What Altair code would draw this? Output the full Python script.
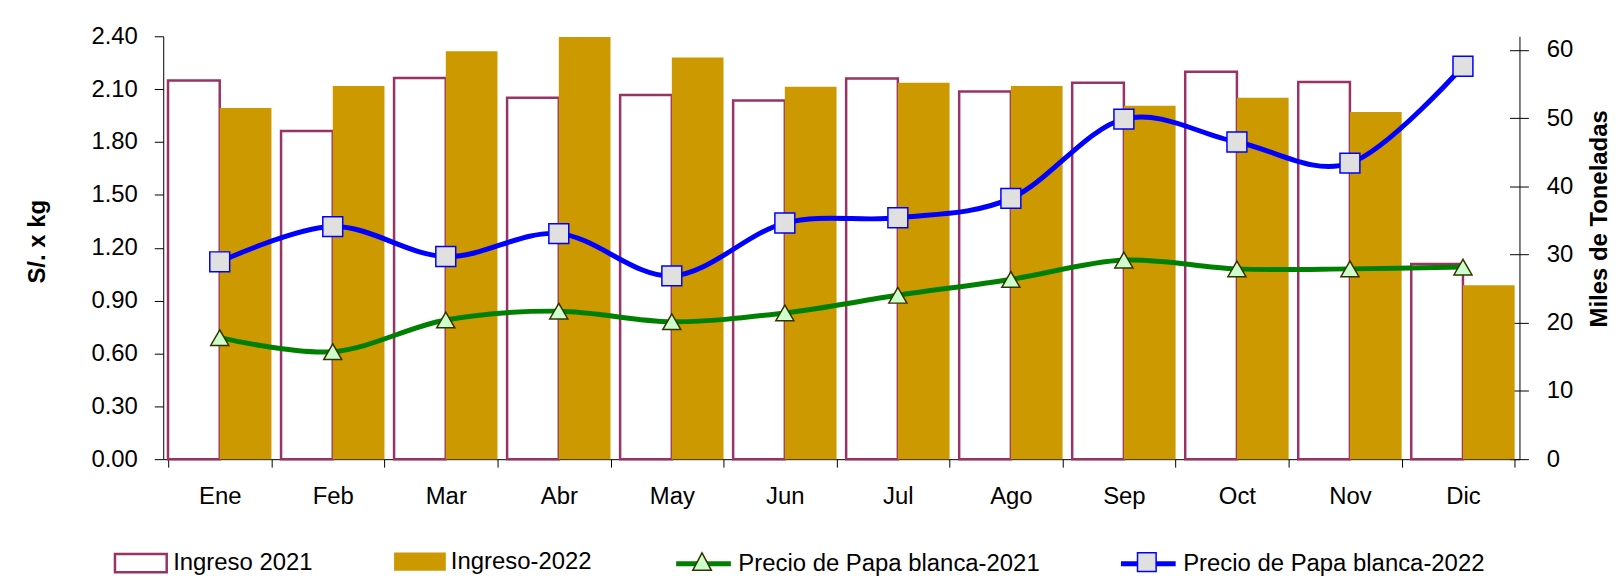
import altair as alt
import pandas as pd

meses = ["Ene", "Feb", "Mar", "Abr", "May", "Jun", "Jul", "Ago", "Sep", "Oct", "Nov", "Dic"]
ingreso_2021 = [55.5, 48.1, 55.9, 53.0, 53.4, 52.6, 55.8, 53.9, 55.2, 56.8, 55.3, 28.6]
ingreso_2022 = [51.5, 54.7, 59.8, 61.9, 58.9, 54.6, 55.2, 54.7, 51.8, 53.0, 50.9, 25.5]
precio_2021 = [0.69, 0.61, 0.79, 0.84, 0.78, 0.83, 0.93, 1.02, 1.13, 1.08, 1.08, 1.09]
precio_2022 = [1.12, 1.32, 1.15, 1.28, 1.04, 1.34, 1.37, 1.48, 1.93, 1.80, 1.68, 2.23]
series = ["Ingreso 2021", "Ingreso-2022", "Precio de Papa blanca-2021", "Precio de Papa blanca-2022"]
left_ticks = [0.0, 0.3, 0.6, 0.9, 1.2, 1.5, 1.8, 2.1, 2.4]
right_ticks = [0, 10, 20, 30, 40, 50, 60]

FONT = "Liberation Sans"


def frame(vals, serie):
    return pd.DataFrame({"mes": meses, "valor": vals, "serie": serie})


def leg(x, y, **kw):
    return alt.Legend(orient="none", legendX=x, legendY=y, direction="horizontal",
                      labelFontSize=24, labelFont=FONT, labelColor="black",
                      labelOffset=5, labelLimit=0, **kw)


x_scale = alt.Scale(domain=meses, paddingInner=0.085, paddingOuter=0.0425)
x_main = alt.X("mes:N", scale=x_scale, axis=alt.Axis(
    title=None, tickBand="extent", tickSize=8, labelPadding=18, labelAngle=0,
    labelFontSize=24, labelFont=FONT, labelColor="black", tickColor="black",
    domainColor="black"))
x_plain = alt.X("mes:N", scale=x_scale, axis=None)
x_off = alt.XOffset("serie:N", scale=alt.Scale(domain=series[:2], paddingInner=0, paddingOuter=0))

y_right = alt.Y("valor:Q", scale=alt.Scale(domain=[0, 62], nice=False), axis=alt.Axis(
    orient="right", values=right_ticks, format="d", tickSize=9, labelPadding=18,
    labelFontSize=24, labelFont=FONT, labelColor="black", tickColor="black",
    domainColor="black", grid=False, title="Miles de Toneladas", titleFont=FONT,
    titleFontSize=24, titleFontWeight="bold", titleColor="black", titleAngle=270,
    titleX=80, titleY=183, titleBaseline="middle", titleAlign="center"))
# inner half of the crossing ticks on the right axis
y_right_inner = alt.Y("valor:Q", scale=alt.Scale(domain=[0, 62], nice=False), axis=alt.Axis(
    orient="right", values=right_ticks, tickSize=10, offset=-10, labels=False, domain=False,
    grid=False, title=None, tickColor="black"))

y_left = alt.Y("valor:Q", scale=alt.Scale(domain=[0, 2.4], nice=False), axis=alt.Axis(
    orient="left", values=left_ticks, format=".2f", tickSize=9, labelPadding=17,
    labelFontSize=24, labelFont=FONT, labelColor="black", tickColor="black",
    domainColor="black", grid=False, title="S/. x kg", titleFont=FONT,
    titleFontSize=24, titleFontWeight="bold", titleColor="black", titleAngle=270,
    titleX=-126, titleY=206, titleBaseline="middle", titleAlign="center"))
y_left_plain = alt.Y("valor:Q", scale=alt.Scale(domain=[0, 2.4], nice=False), axis=None)

RECT = "M-1,-0.35 L1,-0.35 L1,0.35 L-1,0.35 Z"
LINE = "M-1,0 L1,0"
TRI = "M-0.34,0.3 L0,-0.34 L0.34,0.3 Z"
SQR = "M-0.34,-0.34 L0.34,-0.34 L0.34,0.34 L-0.34,0.34 Z"

b21 = alt.Chart(frame(ingreso_2021, series[0])).mark_bar(fill="white", strokeWidth=2.5).encode(
    x=x_main, xOffset=x_off, y=y_right,
    stroke=alt.Stroke("serie:N", title=None, scale=alt.Scale(domain=[series[0]], range=["#993366"]),
                      legend=leg(-50, 502, symbolType=RECT, symbolSize=2704, symbolFillColor="white",
                                 symbolStrokeColor="#993366", symbolStrokeWidth=2.5)))
b22 = alt.Chart(frame(ingreso_2022, series[1])).mark_bar().encode(
    x=x_plain, xOffset=x_off, y=y_right_inner,
    fill=alt.Fill("serie:N", title=None, scale=alt.Scale(domain=[series[1]], range=["#CC9900"]),
                  legend=leg(232, 502, symbolType=RECT, symbolSize=2704, symbolFillColor="#CC9900",
                             symbolStrokeWidth=0)))
l21 = alt.Chart(frame(precio_2021, series[2])).mark_line(strokeWidth=5, interpolate="cardinal", tension=0).encode(
    x=x_plain, y=y_left,
    color=alt.Color("serie:N", title=None, scale=alt.Scale(domain=[series[2]], range=["#008000"]),
                    legend=leg(513, 500, symbolType=LINE, symbolSize=3025, symbolStrokeColor="#008000",
                               symbolStrokeWidth=5)))
p21 = alt.Chart(frame(precio_2021, series[2])).mark_point(
    filled=True, shape="triangle-up", size=330, stroke="#333300", strokeWidth=1.5, opacity=1).encode(
    x=x_plain, y=y_left_plain,
    color=alt.Color("serie:N", title=None, scale=alt.Scale(domain=[series[2]], range=["#CCFFCC"]),
                    legend=leg(513, 500, symbolType=TRI, symbolSize=3025, symbolFillColor="#CCFFCC",
                               symbolStrokeColor="#333300", symbolStrokeWidth=1.5, labelExpr="''")))
l22 = alt.Chart(frame(precio_2022, series[3])).mark_line(strokeWidth=5, interpolate="cardinal", tension=0).encode(
    x=x_plain, y=y_left_plain,
    color=alt.Color("serie:N", title=None, scale=alt.Scale(domain=[series[3]], range=["#0000FF"]),
                    legend=leg(960, 500, symbolType=LINE, symbolSize=3025, symbolStrokeColor="#0000FF",
                               symbolStrokeWidth=5)))
p22 = alt.Chart(frame(precio_2022, series[3])).mark_point(
    filled=True, shape="square", size=400, stroke="#0000FF", strokeWidth=1.5, opacity=1).encode(
    x=x_plain, y=y_left_plain,
    color=alt.Color("serie:N", title=None, scale=alt.Scale(domain=[series[3]], range=["#E0E0E0"]),
                    legend=leg(960, 500, symbolType=SQR, symbolSize=3025, symbolFillColor="#E0E0E0",
                               symbolStrokeColor="#0000FF", symbolStrokeWidth=1.5, labelExpr="''")))

chart = alt.layer(b21, b22, l21, p21, l22, p22).resolve_scale(
    y="independent", color="independent"
).resolve_axis(x="independent").resolve_legend(color="independent").properties(
    width=1363, height=425,
    autosize=alt.AutoSizeParams(type="none"),
    padding={"left": 156, "top": 27, "right": 93, "bottom": 118},
).configure(background="white", view=alt.ViewConfig(stroke=None))

chart.save("out.html", embed_options={"renderer": "svg", "actions": False})
